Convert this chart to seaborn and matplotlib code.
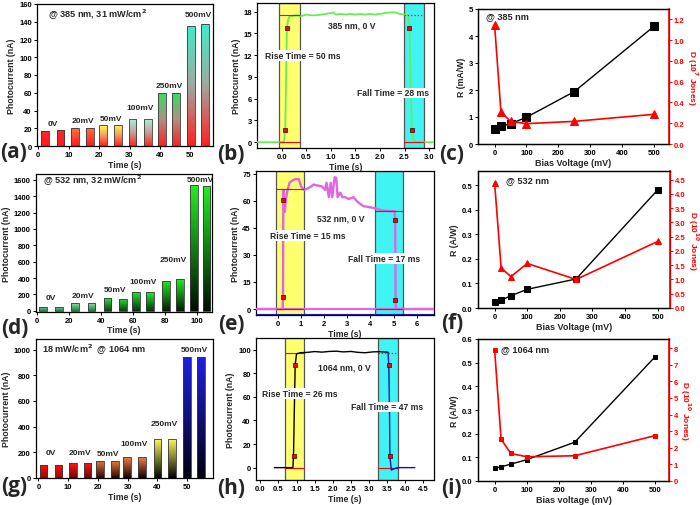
import numpy as np
import pandas as pd
import matplotlib
matplotlib.use("Agg")
import matplotlib.pyplot as plt
import seaborn as sns
from matplotlib.colors import LinearSegmentedColormap
from matplotlib.ticker import FormatStrFormatter

# ---------------- data ----------------
bias_labels = ["0V", "20mV", "50mV", "100mV", "250mV", "500mV"]

a_time = [2.3, 7.3, 12.0, 17.1, 21.3, 26.3, 31.0, 36.0, 40.7, 45.2, 50.2, 54.8]
a_current = [17, 17.5, 20.5, 20.5, 23.5, 24, 30, 30, 60, 60, 135, 137]

d_time = [3.9, 13.8, 24.0, 34.1, 44.2, 53.9, 62.0, 70.8, 81.0, 89.5, 98.2, 106.2]
d_current = [50, 52, 95, 90, 155, 150, 235, 230, 370, 385, 1530, 1520]

g_time = [1.75, 6.85, 11.65, 16.6, 20.75, 25.8, 29.75, 34.8, 40.05, 44.9, 49.95, 54.65]
g_current = [100, 100, 115, 115, 135, 133, 165, 165, 305, 305, 940, 945]

b_time = [-0.5, 0.0, 0.05, 0.074, 0.09, 0.108, 0.13, 0.155, 0.2, 0.3, 0.4, 0.5, 0.6,
          0.7, 0.8, 0.9, 1.0, 1.05, 1.1, 1.2, 1.3, 1.4, 1.5, 1.6, 1.7, 1.8, 1.9, 2.0,
          2.1, 2.2, 2.3, 2.4, 2.5, 2.58, 2.6, 2.625, 2.65, 2.68, 2.72, 2.8, 3.1]
b_current = [0, 0, 0.1, 1.7, 8.0, 15.8, 16.8, 17.3, 17.4, 17.5, 17.4, 17.6, 17.5,
             17.5, 17.6, 17.7, 17.8, 17.9, 17.6, 17.7, 17.6, 17.7, 17.6, 17.7, 17.6, 17.7,
             17.6, 17.7, 17.8, 17.9, 17.9, 17.7, 17.6, 17.5, 15.8, 8.0, 1.7, 0.4, 0.05, 0, 0]
b_mark_t = [0.074, 0.108, 2.60, 2.65]
b_mark_i = [1.7, 15.8, 15.8, 1.7]
b_level = [0.0, 17.5]
b_rise_band = [-0.05, 0.38]
b_fall_band = [2.48, 2.89]

e_time = [-0.95, 0.2, 0.22, 0.23, 0.24, 0.27, 0.3, 0.33, 0.36, 0.4, 0.5, 0.6, 0.75,
          0.9, 1.0, 1.14, 1.3, 1.45, 1.54, 1.7, 1.9, 2.04, 2.1, 2.2, 2.28, 2.35, 2.45,
          2.52, 2.58, 2.69, 2.79, 2.9, 3.05, 3.27, 3.4, 3.48, 3.7, 3.9, 4.2, 4.49, 4.78,
          5.04, 5.07, 5.09, 5.1, 5.15, 6.75]
e_current = [0, 0, 6.4, 60.2, 66, 56, 54, 59, 62, 65, 70, 71, 72,
             72, 68, 66, 67, 68, 69, 68.5, 68, 66, 70, 62, 70, 62, 73,
             72.7, 62, 64.5, 62, 62, 61, 62, 60, 59, 57, 56.6, 55.8, 54.7, 54.3,
             54.3, 49.2, 5.2, 0.5, 0, 0]
e_mark_t = [0.22, 0.22, 5.08, 5.08]
e_mark_i = [6.4, 60.2, 49.2, 5.2]
e_level_on = 66.7
e_level_off = 54.5
e_rise_band = [-0.07, 1.13]
e_fall_band = [4.19, 5.39]

h_time_on = [0.39, 0.9, 0.917, 0.94, 0.963, 1.0, 1.1, 1.3, 1.5, 1.7, 1.9, 2.1, 2.3,
             2.5, 2.7, 2.9, 3.1, 3.3, 3.5, 3.53]
h_current_on = [0, 0, 9.9, 50, 87.2, 96.5, 97.5, 97.8, 98.5, 98, 98.6, 98.8, 98.2,
                98.6, 97.8, 97.5, 98.2, 98.4, 98, 97.8]
h_time_off = [3.53, 3.55, 3.57, 3.58, 3.62, 3.7, 3.8, 4.27]
h_current_off = [97.8, 87.2, 50, 9.9, -2, -1, 0, 0]
h_mark_t = [0.917, 0.963, 3.55, 3.58]
h_mark_i = [9.9, 87.2, 87.2, 9.9]
h_level = [0.0, 97.2]
h_rise_band = [0.68, 1.2]
h_fall_band = [3.26, 3.81]

bias_mv = [0, 20, 50, 100, 250, 500]
c_R = [0.556, 0.65, 0.75, 0.99, 1.94, 4.36]
c_D = [1.149, 0.308, 0.218, 0.196, 0.218, 0.286]
f_R = [0.023, 0.032, 0.05, 0.076, 0.118, 0.48]
f_D = [4.38, 1.40, 1.10, 1.56, 1.0, 2.33]
i_R = [0.053, 0.06, 0.071, 0.09, 0.164, 0.524]
i_D = [7.86, 2.53, 1.66, 1.46, 1.52, 2.73]

# ---------------- style ----------------
sns.set_theme(style="ticks")
plt.rcParams['font.family'] = ['Liberation Sans', 'DejaVu Sans']
plt.rcParams['font.weight'] = 'bold'
plt.rcParams['axes.labelweight'] = 'bold'
plt.rcParams['axes.linewidth'] = 0.9
plt.rcParams['axes.edgecolor'] = 'black'
plt.rcParams['mathtext.default'] = 'bf'

W, H = 700, 506
fig = plt.figure(figsize=(7.0, 5.06), dpi=100)


def px_axes(l, r, t, b):
    return fig.add_axes([l / W, 1 - b / H, (r - l) / W, (b - t) / H])


def style_ax(ax):
    ax.tick_params(labelsize=5.5, length=2.2, width=0.7, pad=1.5, colors='black')
    for lab in ax.get_xticklabels() + ax.get_yticklabels():
        lab.set_fontweight('bold')
    for s in ax.spines.values():
        s.set_visible(True)
        s.set_linewidth(0.9)
    ax.set_facecolor('white')


def gradient_bars(ax, centers, heights, width, pair_colors):
    grad = np.linspace(0, 1, 128).reshape(-1, 1)
    for k, (c, h) in enumerate(zip(centers, heights)):
        cmap = LinearSegmentedColormap.from_list(f"g{k}", pair_colors[k // 2])
        bar = ax.bar(c, h, width=width, facecolor='none', edgecolor='#3a3a3a',
                     linewidth=0.6, zorder=3)[0]
        im = ax.imshow(grad, cmap=cmap, origin='lower', aspect='auto',
                       extent=[c - width / 2, c + width / 2, 0, h], zorder=2,
                       interpolation='bilinear')
        im.set_clip_path(bar)


def bias_text(ax, centers, heights, offsets_px):
    for p, lbl in enumerate(bias_labels):
        xc = (centers[2 * p] + centers[2 * p + 1]) / 2
        yc = max(heights[2 * p], heights[2 * p + 1])
        ax.annotate(lbl, xy=(xc, yc), xytext=(0, offsets_px[p] * 0.72),
                    textcoords='offset points', ha='center', va='center',
                    fontsize=6, fontweight='bold')


def panel_label(txt, x, y):
    fig.text(x / W, 1 - y / H, txt, fontsize=15, fontweight='bold',
             family=['Open Sans', 'DejaVu Sans'], ha='left', va='center')


# ---------------- (a) ----------------
ax = px_axes(37, 213, 5, 147)
gradient_bars(ax, a_time, a_current, 2.5, [
    ['#ff1a1a', '#ff2a2a'],
    ['#ff1a1a', '#ff4a30', '#ff7a40'],
    ['#ff2020', '#f49a60', '#ffff50'],
    ['#ff2020', '#c8a090', '#a8f0e0'],
    ['#ff2020', '#b09080', '#30e060'],
    ['#ff2020', '#a0a8a0', '#40ecc8'],
])
ax.set_xlim(-0.4, 57.4)
ax.set_ylim(0, 160)
ax.set_xticks(range(0, 51, 10))
ax.set_yticks(range(0, 161, 20))
bias_text(ax, a_time, a_current, [7, 7.8, 6.4, 11.8, 7.5, 9.6])
ax.text(0.065, 0.93, r'@ 385 nm, 31 mW/cm$^2$', transform=ax.transAxes, fontsize=6.6,
        fontweight='bold', va='center', ha='left')
ax.set_xlabel('Time (s)', fontsize=6.3, labelpad=1)
ax.set_ylabel('Photocurrent (nA)', fontsize=6.3, labelpad=2)
style_ax(ax)

# ---------------- (d) ----------------
ax = px_axes(36, 212, 175, 312.5)
gradient_bars(ax, d_time, d_current, 4.8, [
    ['#1e7a4a', '#80e0c0'],
    ['#1e7a3a', '#90e4a0'],
    ['#0e400e', '#30e040'],
    ['#0a300a', '#22f030'],
    ['#021a02', '#20f020'],
    ['#000c00', '#22f022'],
])
ax.set_xlim(-0.6, 109.6)
ax.set_ylim(-8, 1670)
ax.set_xticks(range(0, 101, 20))
ax.set_yticks(range(0, 1601, 200))
bias_text(ax, d_time, d_current, [9, 8, 8.8, 10, 20, 6.3])
ax.text(0.04, 0.955, r'@ 532 nm, 32 mW/cm$^2$', transform=ax.transAxes, fontsize=6.6,
        fontweight='bold', va='center', ha='left')
ax.set_xlabel('Time (s)', fontsize=6.3, labelpad=1)
ax.set_ylabel('Photocurrent (nA)', fontsize=6.3, labelpad=2)
style_ax(ax)

# ---------------- (g) ----------------
ax = px_axes(36, 213, 340, 479)
gradient_bars(ax, g_time, g_current, 2.5, [
    ['#a00000', '#ff1010'],
    ['#700000', '#ff1818'],
    ['#2a0400', '#f08040'],
    ['#100000', '#ff8448'],
    ['#000000', '#ffff60'],
    ['#000010', '#2020e0'],
])
ax.set_xlim(-0.8, 58.7)
ax.set_ylim(0, 1083)
ax.set_xticks(range(0, 51, 10))
ax.set_yticks(range(0, 1001, 200))
bias_text(ax, g_time, g_current, [13, 11, 7.6, 13.5, 15.5, 7.5])
ax.text(0.035, 0.93, r'18 mW/cm$^2$  @ 1064 nm', transform=ax.transAxes, fontsize=6.6,
        fontweight='bold', va='center', ha='left')
ax.set_xlabel('Time (s)', fontsize=6.3, labelpad=1)
ax.set_ylabel('Photocurrent (nA)', fontsize=6.3, labelpad=2)
style_ax(ax)


# ---------------- transient panels ----------------
def bands(ax, rise, fall):
    ax.axvspan(rise[0], rise[1], facecolor='#ffff70', edgecolor='#555555', lw=0.9, zorder=0)
    ax.axvspan(fall[0], fall[1], facecolor='#40f4f4', edgecolor='#555555', lw=0.9, zorder=0)


def note(ax, x, y, s, box=True):
    kw = dict(fontsize=6.2, fontweight='bold', ha='center', va='center', zorder=6)
    if box:
        kw['bbox'] = dict(boxstyle='square,pad=0.1', fc='white', ec='none')
    ax.text(x, y, s, **kw)


# (b)
ax = px_axes(257, 434, 4, 149)
bands(ax, b_rise_band, b_fall_band)
sns.lineplot(x=b_time, y=b_current, ax=ax, color='#66ee55', lw=1.3, sort=False,
             estimator=None, zorder=3)
ax.hlines(b_level[1], *b_rise_band, color='red', lw=0.8, zorder=4)
ax.hlines(b_level[1], *b_fall_band, color='red', lw=0.9, ls=':', zorder=4)
ax.hlines(b_level[0], *b_rise_band, color='red', lw=0.8, zorder=4)
ax.hlines(b_level[0], *b_fall_band, color='red', lw=0.8, zorder=4)
sns.scatterplot(x=b_mark_t, y=b_mark_i, ax=ax, marker='s', color='red', s=12,
                edgecolor='#400000', linewidth=0.5, zorder=5)
ax.set_xlim(-0.5, 3.1)
ax.set_ylim(-0.8, 19.2)
ax.set_xticks(np.arange(0, 3.01, 0.5))
ax.set_yticks(range(0, 19, 3))
ax.xaxis.set_major_formatter(FormatStrFormatter('%.1f'))
note(ax, 1.43, 16.15, '385 nm, 0 V', box=False)
note(ax, 0.43, 12.0, 'Rise Time = 50 ms')
note(ax, 2.27, 6.8, 'Fall Time = 28 ms')
ax.set_xlabel('Time (s)', fontsize=6.3, labelpad=1)
ax.set_ylabel('Photocurrent (nA)', fontsize=6.3, labelpad=2)
style_ax(ax)

# (e)
ax = px_axes(256, 434, 172, 316)
bands(ax, e_rise_band, e_fall_band)
ax.hlines(0, -0.95, 6.75, color='#e066e0', lw=1.6, zorder=2)
sns.lineplot(x=e_time, y=e_current, ax=ax, color='#e066e0', lw=1.7, sort=False,
             estimator=None, zorder=3)
ax.hlines(e_level_on, *e_rise_band, color='red', lw=0.8, zorder=4)
ax.hlines(e_level_off, *e_fall_band, color='red', lw=0.8, zorder=4)
ax.hlines(0, *e_rise_band, color='red', lw=0.8, zorder=4)
ax.hlines(0, *e_fall_band, color='red', lw=0.8, zorder=4)
ax.axhline(-2.9, color='#1a1aa0', lw=0.8, zorder=4)
sns.scatterplot(x=e_mark_t, y=e_mark_i, ax=ax, marker='s', color='red', s=12,
                edgecolor='#400000', linewidth=0.5, zorder=5)
ax.set_xlim(-0.95, 6.75)
ax.set_ylim(-3.3, 76.5)
ax.set_xticks(range(0, 7))
ax.set_yticks(range(0, 76, 15))
note(ax, 2.7, 50.7, '532 nm, 0 V', box=False)
note(ax, 1.27, 40.6, 'Rise Time = 15 ms')
note(ax, 4.59, 28.0, 'Fall Time = 17 ms')
ax.set_xlabel('Time (s)', fontsize=6.3, labelpad=1)
ax.set_ylabel('Photocurrent (nA)', fontsize=6.3, labelpad=2)
style_ax(ax)

# (h)
ax = px_axes(256, 434, 339, 481)
bands(ax, h_rise_band, h_fall_band)
sns.lineplot(x=h_time_on, y=h_current_on, ax=ax, color='black', lw=1.0, sort=False,
             estimator=None, zorder=3)
sns.lineplot(x=h_time_off, y=h_current_off, ax=ax, color='#1010c8', lw=1.0, sort=False,
             estimator=None, zorder=3)
ax.hlines(h_level[1], *h_rise_band, color='red', lw=0.8, zorder=2)
ax.hlines(h_level[1], *h_fall_band, color='red', lw=0.9, ls=':', zorder=2)
ax.hlines(h_level[0], *h_rise_band, color='red', lw=0.8, zorder=2)
ax.hlines(h_level[0], *h_fall_band, color='red', lw=0.8, zorder=2)
sns.scatterplot(x=h_mark_t, y=h_mark_i, ax=ax, marker='s', color='red', s=12,
                edgecolor='#400000', linewidth=0.5, zorder=5)
ax.set_xlim(-0.12, 4.8)
ax.set_ylim(-10.5, 110)
ax.set_xticks(np.arange(0, 4.51, 0.5))
ax.set_yticks(range(0, 101, 20))
ax.xaxis.set_major_formatter(FormatStrFormatter('%.1f'))
note(ax, 2.31, 85, '1064 nm, 0 V', box=False)
note(ax, 1.09, 63, 'Rise Time = 26 ms')
note(ax, 3.51, 51.5, 'Fall Time = 47 ms')
ax.set_xlabel('Time (s)', fontsize=6.3, labelpad=1)
ax.set_ylabel('Photocurrent (nA)', fontsize=6.3, labelpad=2)
style_ax(ax)


# ---------------- responsivity / detectivity ----------------
def rd_panel(box, R, D, rlim, dlim, rticks, dticks, rfmt, dfmt, rlabel, dlabel,
             xlabel, title, title_x, title_y, rmarker, dmarker, msize, xlim):
    ax = px_axes(*box)
    sns.lineplot(x=bias_mv, y=R, ax=ax, color='black', lw=1.0, marker=rmarker,
                 markersize=msize, markeredgecolor='black', estimator=None)
    ax.set_xlim(*xlim)
    ax.set_ylim(*rlim)
    ax.set_yticks(rticks)
    if rfmt:
        ax.yaxis.set_major_formatter(FormatStrFormatter(rfmt))
    ax.set_xticks(range(0, 501, 100))
    ax.set_xlabel(xlabel, fontsize=6.5, labelpad=1)
    ax.set_ylabel(rlabel, fontsize=6.3, labelpad=2)
    ax.text(title_x, title_y, title, transform=ax.transAxes, fontsize=6.6,
            fontweight='bold', ha='left', va='center', zorder=6)
    style_ax(ax)
    ax2 = ax.twinx()
    sns.lineplot(x=bias_mv, y=D, ax=ax2, color='red', lw=1.2, marker=dmarker,
                 markersize=msize, markeredgecolor='red', estimator=None)
    ax2.set_ylim(*dlim)
    ax2.set_yticks(dticks)
    if dfmt:
        ax2.yaxis.set_major_formatter(FormatStrFormatter(dfmt))
    style_ax(ax2)
    ax2.tick_params(axis='y', colors='red', pad=1)
    for lab in ax2.get_yticklabels():
        lab.set_color('red')
    ax2.set_ylabel(dlabel, fontsize=6.0, color='red', rotation=270, va='bottom',
                   labelpad=0.5)
    ax2.spines['right'].set_color('red')
    ax2.spines['right'].set_linewidth(1.2)
    return ax, ax2


rd_panel((478, 669, 10, 145), c_R, c_D, (0, 5), (0, 1.3), range(0, 6),
         np.arange(0, 1.21, 0.2), None, '%.1f', 'R (mA/W)', r'D (10$^7$ Jones)',
         'Bias Voltage (mV)', '@ 385 nm', 0.04, 0.95, 's', '^', 5.5, (-52, 547))
rd_panel((478, 670, 172, 309), f_R, f_D, (0, 0.557), (0, 4.8),
         np.arange(0, 0.51, 0.1), np.arange(0, 4.51, 0.5), '%.1f', '%.1f',
         'R (A/W)', r'D (10$^{10}$ Jones)', 'Bias Voltage (mV)', '@ 532 nm', 0.145, 0.94,
         's', '^', 5.0, (-51, 538))
rd_panel((478, 669, 340, 482), i_R, i_D, (0, 0.6), (0, 8.55),
         np.arange(0, 0.61, 0.1), range(0, 9), '%.1f', None,
         'R (A/W)', r'D (10$^{10}$ Jones)', 'Bias voltage (mV)', '@ 1064 nm', 0.12, 0.93,
         's', 's', 3.0, (-52, 544))

# ---------------- panel labels ----------------
panel_label('(a)', 0, 153)
panel_label('(b)', 217, 154)
panel_label('(c)', 439, 154)
panel_label('(d)', 1, 328)
panel_label('(e)', 218, 325)
panel_label('(f)', 441, 324)
panel_label('(g)', 1, 487)
panel_label('(h)', 217, 489)
panel_label('(i)', 441, 489)

fig.savefig('out.png', dpi=100)
